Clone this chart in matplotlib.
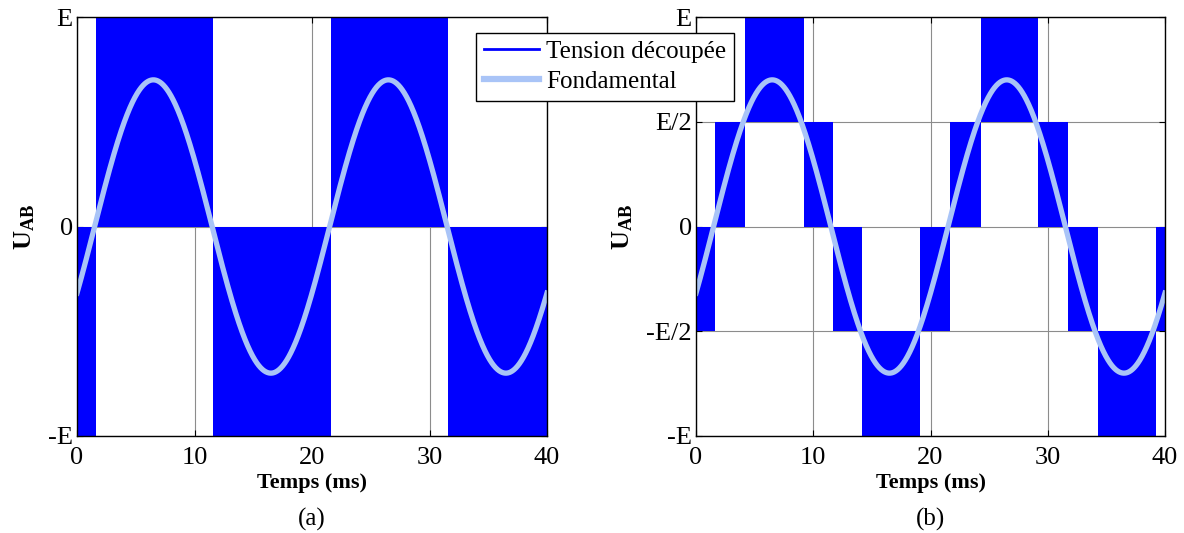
import numpy as np
import matplotlib
matplotlib.use("Agg")
import matplotlib.pyplot as plt
from matplotlib.lines import Line2D

plt.rcParams['font.family'] = ['Liberation Serif', 'DejaVu Serif']
plt.rcParams['mathtext.fontset'] = 'custom'
plt.rcParams['mathtext.rm'] = 'Liberation Serif'
plt.rcParams['mathtext.bf'] = 'Liberation Serif:bold'

# ---- data (E = 1) ----
# (a) two-level PWM: segment boundaries (ms) and band limits
a_edges = [0, 1.6, 11.6, 21.6, 31.6, 40]
a_low = [-1, 0, -1, 0, -1]
a_high = [0, 1, 0, 1, 0]

# (b) three-level (multilevel) PWM
b_edges = [0, 1.6, 4.2, 9.2, 11.7, 14.2, 19.1, 21.7, 24.3, 29.2, 31.7, 34.3, 39.2, 40]
b_low = [-0.5, 0, 0.5, 0, -0.5, -1, -0.5, 0, 0.5, 0, -0.5, -1, -0.5]
b_high = [0, 0.5, 1, 0.5, 0, -0.5, 0, 0.5, 1, 0.5, 0, -0.5, 0]

# fundamental
fund_amp = 0.70
fund_period = 20.0   # ms
fund_shift = 1.5     # ms

a_yticks = [-1, 0, 1]
a_yticklabels = ['-E', '0', 'E']
b_yticks = [-1, -0.5, 0, 0.5, 1]
b_yticklabels = ['-E', '-E/2', '0', 'E/2', 'E']
xticks = [0, 10, 20, 30, 40]

BLUE = '#0000ff'
LIGHT = '#a9c4f7'

fig = plt.figure(figsize=(11.84, 5.33), dpi=100)
axA = fig.add_axes([77/1184, 1-436/533, 470/1184, 419/533])
axB = fig.add_axes([696/1184, 1-436/533, 469/1184, 419/533])

t = np.linspace(0, 40, 2000)
fund = fund_amp * np.sin(2*np.pi*(t - fund_shift)/fund_period)

def draw(ax, edges, low, high, yt, ytl, lab):
    ax.set_axisbelow(True)
    ax.grid(True, color='#8c8c8c', linewidth=0.8)
    starts = np.array(edges[:-1])
    widths = np.diff(edges)
    ax.bar(starts, np.array(high) - np.array(low), width=widths, bottom=low,
           align='edge', color=BLUE, linewidth=0, zorder=2)
    ax.plot(t, fund, color=LIGHT, linewidth=3.8, zorder=3)
    ax.set_xlim(0, 40)
    ax.set_ylim(-1, 1)
    ax.set_xticks(xticks)
    ax.set_yticks(yt)
    ax.set_yticklabels(ytl)
    ax.tick_params(direction='in', length=4, labelsize=19, top=True, right=True,
                   width=0.8, pad=3)
    ax.tick_params(axis='x', pad=8)
    for s in ax.spines.values():
        s.set_linewidth(1.0)
        s.set_color('black')
        s.set_zorder(5)
    ax.set_xlabel('Temps (ms)', fontsize=16, fontweight='bold', labelpad=3)
    ax.set_ylabel(r'$\mathbf{U_{AB}}$', fontsize=19, labelpad=8)
    ax.text(0.5, -0.172, lab, transform=ax.transAxes, ha='center', va='top', fontsize=18)

draw(axA, a_edges, a_low, a_high, a_yticks, a_yticklabels, '(a)')
draw(axB, b_edges, b_low, b_high, b_yticks, b_yticklabels, '(b)')

handles = [Line2D([], [], color=BLUE, linewidth=2),
           Line2D([], [], color=LIGHT, linewidth=4.5)]
leg = fig.legend(handles, ['Tension découpée', 'Fondamental'],
                 loc='upper left', bbox_to_anchor=(476/1184, 1-33/533),
                 fontsize=18, frameon=True, fancybox=False, framealpha=1,
                 edgecolor='black', borderpad=0.3, labelspacing=0.3,
                 handlelength=2.2, handletextpad=0.3, borderaxespad=0)
leg.get_frame().set_linewidth(1.0)

fig.savefig('out.png', dpi=100)
